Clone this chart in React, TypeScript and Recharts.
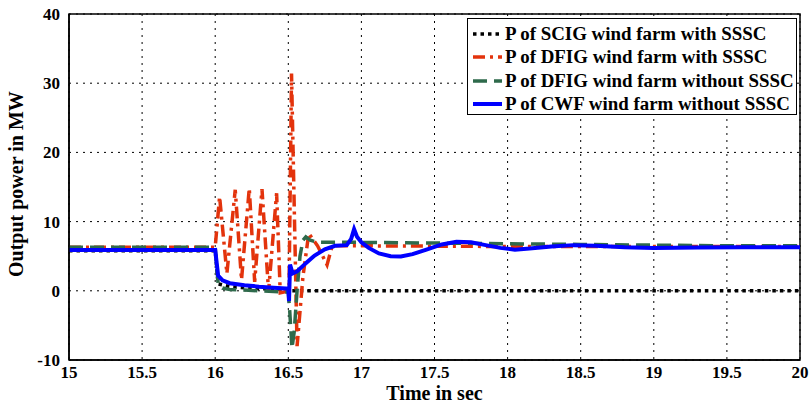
import { LineChart, Line, XAxis, YAxis, CartesianGrid, Legend, ReferenceArea } from "recharts";

// time axis (s) and output power (MW) for each wind farm
const scigTime = [15, 16.0, 16.02, 16.1, 16.3, 16.5, 16.505, 20];
const scigPower = [5.8, 5.8, 1.0, 0.6, 0.3, 0.2, 0, 0];

const dfigSsscTime = [
    15, 15.998, 16.0, 16.03, 16.08, 16.137, 16.18, 16.233, 16.27, 16.32, 16.365,
    16.42, 16.445, 16.505, 16.522, 16.56, 16.6, 16.64, 16.7, 16.765, 16.8, 16.9,
    17, 18, 19, 20,
];
const dfigSsscPower = [
    6.3, 6.3, 6.3, 13.6, 2.5, 14.6, 1.6, 14.8, 1.3, 14.7, -0.1, 14.1, -0.3, 0,
    31.4, -8.0, 2, 8.3, 6.5, 3.75, 6.5, 6.5, 6.5, 6.4, 6.4, 6.4,
];

const dfigTime = [
    15, 16.0, 16.02, 16.05, 16.1, 16.2, 16.3, 16.4, 16.5, 16.51, 16.525, 16.54,
    16.56, 16.58, 16.6, 16.62, 16.65, 16.7, 16.8, 17, 17.5, 18, 18.5, 19, 19.5, 20,
];
const dfigPower = [
    6.3, 6.3, 1.0, 0.4, 0.2, 0.1, 0.0, -0.1, -0.2, -3, -8.3, -6, 0, 5, 7.3, 7.8,
    7.3, 7.0, 7.0, 7.0, 6.9, 6.8, 6.7, 6.6, 6.5, 6.5,
];

const cwfTime = [
    15, 16.0, 16.02, 16.05, 16.1, 16.2, 16.3, 16.4, 16.5, 16.505, 16.512, 16.53,
    16.56, 16.62, 16.68, 16.75, 16.82, 16.9, 16.93, 16.95, 16.97, 17.0, 17.05,
    17.12, 17.2, 17.27, 17.35, 17.45, 17.55, 17.65, 17.75, 17.85, 17.95, 18.05,
    18.15, 18.3, 18.45, 18.6, 18.8, 19.0, 19.3, 19.6, 20,
];
const cwfPower = [
    5.9, 5.9, 2.2, 1.5, 1.1, 0.8, 0.6, 0.45, 0.3, -1.5, 3.8, 2.5, 2.8, 4.0, 5.1,
    6.0, 6.5, 6.6, 7.5, 8.9, 7.8, 7.0, 6.2, 5.4, 5.0, 4.95, 5.3, 6.0, 6.7, 7.1,
    7.0, 6.6, 6.2, 5.95, 6.1, 6.4, 6.6, 6.5, 6.3, 6.2, 6.25, 6.3, 6.3,
];

const xTicks = [15, 15.5, 16, 16.5, 17, 17.5, 18, 18.5, 19, 19.5, 20];
const yTicks = [-10, 0, 10, 20, 30, 40];

const toPoints = (time: number[], power: number[]) =>
    time.map((t, i) => ({ t, p: power[i] }));

const series = [
    { name: "P of SCIG wind farm with SSSC", data: toPoints(scigTime, scigPower), color: "#000000", dash: "3.5 4", width: 3.5 },
    { name: "P of DFIG wind farm with SSSC", data: toPoints(dfigSsscTime, dfigSsscPower), color: "#e3330c", dash: "12 5 3 5", width: 3.5 },
    { name: "P of DFIG wind farm without SSSC", data: toPoints(dfigTime, dfigPower), color: "#2e6a4b", dash: "14 7", width: 3.5 },
    { name: "P of CWF wind farm without SSSC", data: toPoints(cwfTime, cwfPower), color: "#0000ff", dash: undefined, width: 4 },
];

const font = "'Liberation Serif', 'Times New Roman', serif";

function LegendBox() {
    return (
        <div
            style={{
                width: 330,
                height: 97,
                border: "1px solid #000",
                background: "#fff",
                fontFamily: font,
                fontWeight: 700,
                fontSize: 18.9,
                color: "#000",
                boxSizing: "border-box",
                paddingTop: 3,
            }}
        >
            {series.map((s) => (
                <div key={s.name} style={{ display: "flex", alignItems: "center", height: 23.5, whiteSpace: "nowrap" }}>
                    <svg width={37} height={10} style={{ flexShrink: 0 }}>
                        <line
                            x1={5}
                            x2={34}
                            y1={5}
                            y2={5}
                            stroke={s.color}
                            strokeWidth={s.width}
                            strokeDasharray={s.dash}
                        />
                    </svg>
                    <span>{s.name}</span>
                </div>
            ))}
        </div>
    );
}

export default function App() {
    return (
        <div style={{ position: "absolute", left: 0, top: 0, background: "#fff" }}>
            <LineChart width={812} height={406} margin={{ top: 14, right: 12, left: 0, bottom: 0 }}>
                <CartesianGrid stroke="#000" strokeDasharray="2 5" strokeWidth={1} />
                <XAxis
                    dataKey="t"
                    type="number"
                    domain={[15, 20]}
                    ticks={xTicks}
                    allowDataOverflow
                    height={46}
                    tickSize={0}
                    tickMargin={6}
                    axisLine={{ stroke: "#000", strokeWidth: 1.5 }}
                    tick={{ fill: "#000", fontFamily: font, fontWeight: 700, fontSize: 17 }}
                    label={{
                        value: "Time in sec",
                        position: "insideBottom",
                        offset: 6,
                        fill: "#000",
                        fontFamily: font,
                        fontWeight: 700,
                        fontSize: 20,
                    }}
                />
                <YAxis
                    type="number"
                    domain={[-10, 40]}
                    ticks={yTicks}
                    allowDataOverflow
                    width={69}
                    tickSize={0}
                    tickMargin={9}
                    axisLine={{ stroke: "#000", strokeWidth: 1.5 }}
                    tick={{ fill: "#000", fontFamily: font, fontWeight: 700, fontSize: 17 }}
                    label={{
                        value: "Output power in MW",
                        angle: -90,
                        position: "insideLeft",
                        offset: 16,
                        dy: 90,
                        fill: "#000",
                        fontFamily: font,
                        fontWeight: 700,
                        fontSize: 20,
                    }}
                />
                <ReferenceArea x1={15} x2={20} y1={-10} y2={40} fill="none" stroke="#000" strokeWidth={1.5} ifOverflow="visible" />
                {series.map((s) => (
                    <Line
                        key={s.name}
                        data={s.data}
                        dataKey="p"
                        name={s.name}
                        type="linear"
                        stroke={s.color}
                        strokeWidth={s.width}
                        strokeDasharray={s.dash}
                        dot={false}
                        isAnimationActive={false}
                    />
                ))}
                <Legend
                    layout="vertical"
                    align="center"
                    verticalAlign="middle"
                    wrapperStyle={{ left: 467, top: 18, width: 330 }}
                    content={() => <LegendBox />}
                />
            </LineChart>
        </div>
    );
}
